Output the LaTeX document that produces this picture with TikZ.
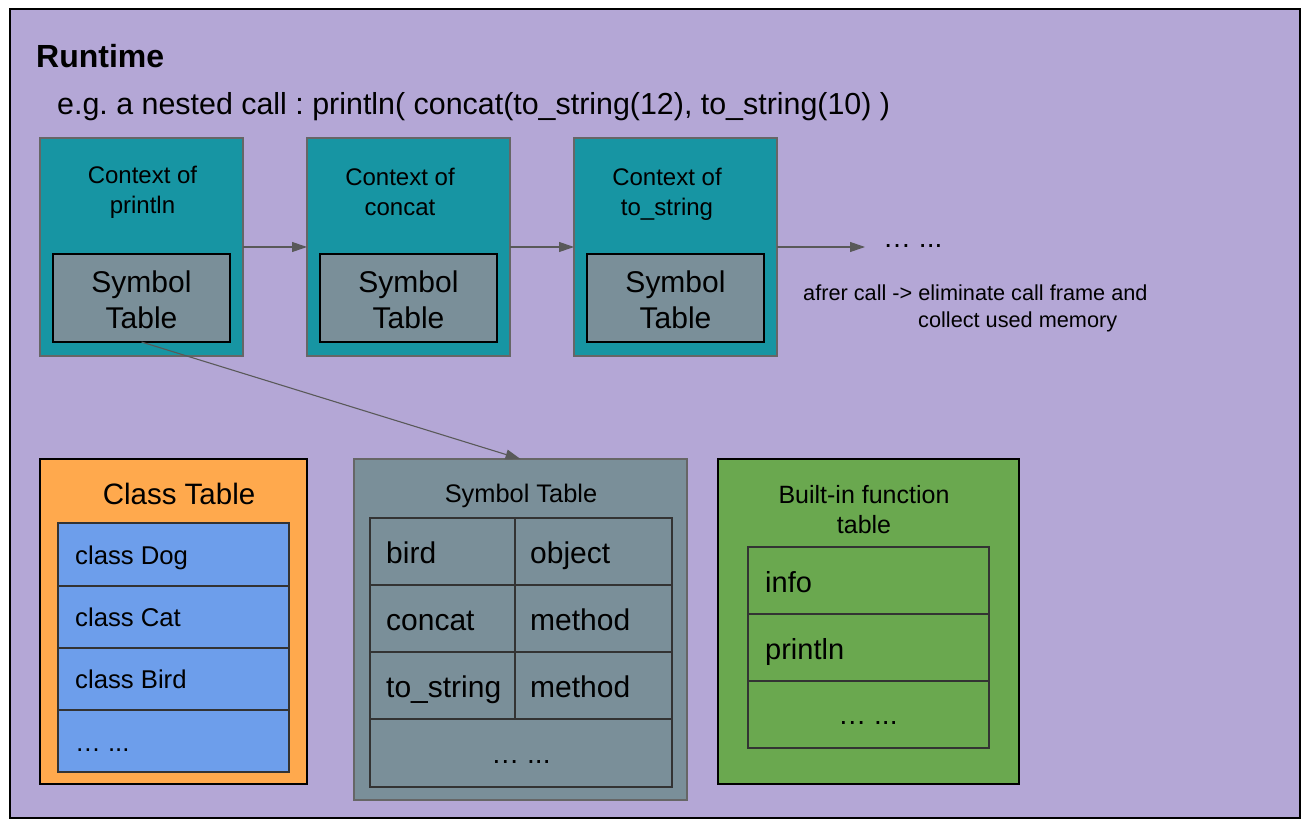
\documentclass[tikz,border=0pt]{standalone}
\usepackage{fontspec}
\setmainfont{Liberation Sans}
\usetikzlibrary{arrows.meta}
\definecolor{lav}{HTML}{B4A7D6}
\definecolor{tealbox}{HTML}{1795A3}
\definecolor{slate}{HTML}{7A8F99}
\definecolor{orangebox}{HTML}{FFA94D}
\definecolor{bluerow}{HTML}{6D9EEB}
\definecolor{greenbox}{HTML}{6AA84F}
\definecolor{edgegray}{HTML}{666666}
\definecolor{celledge}{HTML}{333333}
\definecolor{arrowgray}{HTML}{595959}
\newcommand{\fsz}[1]{\fontsize{#1}{#1}\selectfont}
\frenchspacing
\tikzset{
  box/.style={draw=edgegray, line width=1.4pt, inner sep=0pt, outer sep=0pt, anchor=north west},
  ctxbox/.style={box, fill=tealbox},
  stsmall/.style={box, draw=black, fill=slate},
  cell/.style={box, draw=celledge, line width=1.2pt},
  txt/.style={inner sep=0pt, anchor=base, text=black},
  txtl/.style={inner sep=0pt, anchor=base west, text=black},
  conn/.style={draw=arrowgray, line width=1.1pt, -{Triangle[length=15pt,width=10pt]}},
}
\begin{document}
\begin{tikzpicture}[x=1pt,y=-1pt]
\useasboundingbox (0,0) rectangle (1312,826);
% outer runtime frame
\node[box, draw=black, line width=1.5pt, fill=lav, minimum width=1290pt, minimum height=809pt] (runtime) at (10,9) {};
\node[txtl, font=\fsz{32}\bfseries] (title) at (36,68) {Runtime};
\node[txtl, font=\fsz{30.4}] (example) at (57,115) {e.g. a nested call : println( concat(to\_string(12), to\_string(10) )};

% context boxes
\node[ctxbox, minimum width=203pt, minimum height=218pt] (ctx1) at (40,138) {};
\node[ctxbox, minimum width=203pt, minimum height=218pt] (ctx2) at (307,138) {};
\node[ctxbox, minimum width=203pt, minimum height=218pt] (ctx3) at (574,138) {};

\node[txt, font=\fsz{24}] (c1a) at (142.5,184) {Context of};
\node[txt, font=\fsz{24}] (c1b) at (142.5,214) {println};
\node[txt, font=\fsz{24}] (c2a) at (400,186) {Context of};
\node[txt, font=\fsz{24}] (c2b) at (400,216) {concat};
\node[txt, font=\fsz{24}] (c3a) at (667,186) {Context of};
\node[txt, font=\fsz{24}] (c3b) at (667,216) {to\_string};

\node[stsmall, minimum width=177pt, minimum height=88pt] (st1) at (53,254) {};
\node[stsmall, minimum width=177pt, minimum height=88pt] (st2) at (320,254) {};
\node[stsmall, minimum width=177pt, minimum height=88pt] (st3) at (587,254) {};
\node[txt, font=\fsz{30}] (s1a) at (141.5,293) {Symbol};
\node[txt, font=\fsz{30}] (s1b) at (141.5,328) {Table};
\node[txt, font=\fsz{30}] (s2a) at (408.5,293) {Symbol};
\node[txt, font=\fsz{30}] (s2b) at (408.5,328) {Table};
\node[txt, font=\fsz{30}] (s3a) at (675.5,293) {Symbol};
\node[txt, font=\fsz{30}] (s3b) at (675.5,328) {Table};

\coordinate (moreend) at (865,247);
\node[txtl, font=\fsz{28}] (more) at (883,248) {… ...};
\node[txtl, font=\fsz{21.7}] (after1) at (803,301) {afrer call -> eliminate call frame and};
\node[txtl, font=\fsz{21.7}] (after2) at (918,327) {collect used memory};

% class table
\node[box, draw=black, fill=orangebox, minimum width=267pt, minimum height=325pt] (classtab) at (40,459) {};
\node[txt, font=\fsz{29.5}] (classtitle) at (179,504) {Class Table};
\node[cell, fill=bluerow, minimum width=231pt, minimum height=63pt] (cr1) at (58,523) {};
\node[cell, fill=bluerow, minimum width=231pt, minimum height=62pt] (cr2) at (58,586) {};
\node[cell, fill=bluerow, minimum width=231pt, minimum height=62pt] (cr3) at (58,648) {};
\node[cell, fill=bluerow, minimum width=231pt, minimum height=62pt] (cr4) at (58,710) {};
\node[txtl, font=\fsz{25.7}] at (75,564) {class Dog};
\node[txtl, font=\fsz{25.7}] at (75,626) {class Cat};
\node[txtl, font=\fsz{25.7}] at (75,688) {class Bird};
\node[txtl, font=\fsz{25.7}] at (75,751) {… ...};

% symbol table big
\node[box, fill=slate, minimum width=333pt, minimum height=341pt] (bigst) at (354,459) {};
\node[txt, font=\fsz{25.4}] (sttitle) at (521,502) {Symbol Table};
\node[cell, minimum width=145pt, minimum height=67pt] (g11) at (370,518) {};
\node[cell, minimum width=157pt, minimum height=67pt] (g12) at (515,518) {};
\node[cell, minimum width=145pt, minimum height=67pt] (g21) at (370,585) {};
\node[cell, minimum width=157pt, minimum height=67pt] (g22) at (515,585) {};
\node[cell, minimum width=145pt, minimum height=67pt] (g31) at (370,652) {};
\node[cell, minimum width=157pt, minimum height=67pt] (g32) at (515,652) {};
\node[cell, minimum width=302pt, minimum height=68pt] (g4) at (370,719) {};
\node[txtl, font=\fsz{30}] at (386,563) {bird};
\node[txtl, font=\fsz{30}] at (530,563) {object};
\node[txtl, font=\fsz{30}] at (386,630) {concat};
\node[txtl, font=\fsz{30}] at (530,630) {method};
\node[txtl, font=\fsz{30}] at (386,697) {to\_string};
\node[txtl, font=\fsz{30}] at (530,697) {method};
\node[txt, font=\fsz{28}] at (521,763) {… ...};

% built-in function table
\node[box, draw=black, fill=greenbox, minimum width=301pt, minimum height=325pt] (builtin) at (718,459) {};
\node[txt, font=\fsz{25}] (bt1) at (864,503) {Built-in function};
\node[txt, font=\fsz{25}] (bt2) at (864,533) {table};
\node[cell, minimum width=241pt, minimum height=67pt] (b1) at (748,547) {};
\node[cell, minimum width=241pt, minimum height=67pt] (b2) at (748,614) {};
\node[cell, minimum width=241pt, minimum height=67pt] (b3) at (748,681) {};
\node[txtl, font=\fsz{29}] at (765,592) {info};
\node[txtl, font=\fsz{29}] at (765,659) {println};
\node[txt, font=\fsz{28}] at (868,724) {… ...};

% connectors
\draw[conn] (ctx1.east) -- (ctx2.west);
\draw[conn] (ctx2.east) -- (ctx3.west);
\draw[conn] (ctx3.east) -- (moreend);
\draw[conn] (st1.south) -- (bigst.north);
\end{tikzpicture}
\end{document}
